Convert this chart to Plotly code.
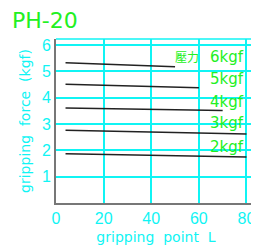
import plotly.graph_objects as go

# data
series_names = ["6kgf", "5kgf", "4kgf", "3kgf", "2kgf"]
x_start = [4, 4, 4, 4, 4]
x_end = [50, 60, 70, 80, 80]
y_start = [5.33, 4.51, 3.61, 2.76, 1.87]
y_end = [5.18, 4.38, 3.51, 2.62, 1.75]
label_x = [72, 72, 72, 72, 72]
label_y = [5.55, 4.71, 3.85, 3.04, 2.13]
x_ticks = [0, 20, 40, 60, 80]
y_ticks = [1, 2, 3, 4, 5, 6]

CYAN = "#10f4f4"
GREEN = "#22f022"
LINE = "#222222"
NARROW = "Liberation Sans Narrow, Liberation Sans, DejaVu Sans"

fig = go.Figure()
for i, n in enumerate(series_names):
    fig.add_trace(go.Scatter(x=[x_start[i], x_end[i]], y=[y_start[i], y_end[i]],
                             mode="lines", line=dict(color=LINE, width=1.5),
                             showlegend=False, hoverinfo="skip"))
    fig.add_annotation(x=label_x[i], y=label_y[i], text=n, showarrow=False,
                       font=dict(color=GREEN, size=15, family="DejaVu Sans"))
fig.add_annotation(x=55, y=5.55, text="壓力", showarrow=False,
                   font=dict(color=GREEN, size=12, family="Noto Sans CJK TC"))

fig.add_annotation(xref="paper", yref="paper", x=-0.23, y=1.11, xanchor="left", yanchor="middle",
                   text="PH-20", showarrow=False,
                   font=dict(color=GREEN, size=22, family="DejaVu Sans"))

# frame top/right
fig.add_shape(type="line", xref="paper", yref="paper", x0=0, x1=1, y0=1, y1=1,
              line=dict(color=CYAN, width=1.5))
fig.add_shape(type="line", xref="paper", yref="paper", x0=1, x1=1, y0=0, y1=1,
              line=dict(color=CYAN, width=1.5))

fig.update_xaxes(range=[0, 84], tickvals=x_ticks, ticktext=[str(v) for v in x_ticks],
                 showgrid=True, gridcolor=CYAN, gridwidth=1.5, zeroline=False,
                 showline=True, linecolor="#777777", linewidth=2, ticks="",
                 automargin=False,
                 tickfont=dict(color=CYAN, size=16, family=NARROW),
                 title=dict(text="gripping  point  L", font=dict(color=CYAN, size=14, family="DejaVu Sans"), standoff=8))
fig.update_yaxes(range=[0, 6.23], tickvals=y_ticks, ticktext=[str(v) for v in y_ticks],
                 showgrid=True, gridcolor=CYAN, gridwidth=1.5, zeroline=False,
                 showline=True, linecolor="#777777", linewidth=2, ticks="",
                 automargin=False,
                 tickfont=dict(color=CYAN, size=16, family=NARROW),
                 title=dict(text="gripping  force  (kgf)", font=dict(color=CYAN, size=14, family="DejaVu Sans"), standoff=8))

fig.update_layout(width=251, height=237, margin=dict(l=48, r=3, t=31, b=42),
                  plot_bgcolor="white", paper_bgcolor="white")
fig.write_html("out.html")
